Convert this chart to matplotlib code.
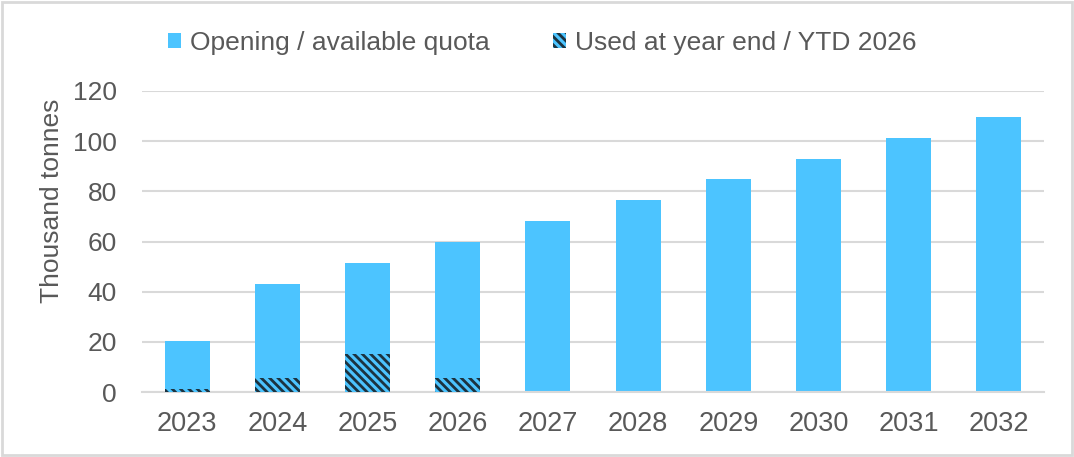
import numpy as np
import matplotlib
matplotlib.use("Agg")
import matplotlib.pyplot as plt
from matplotlib.patches import Rectangle

plt.rcParams['font.family'] = ['Liberation Sans', 'DejaVu Sans']
plt.rcParams['hatch.linewidth'] = 2.0
plt.rcParams['hatch.color'] = '#1c3340'

# datos
years = ['2023', '2024', '2025', '2026', '2027', '2028', '2029', '2030', '2031', '2032']
opening = [20.3, 43.0, 51.5, 60.0, 68.2, 76.5, 84.8, 93.0, 101.3, 109.8]
used = [1.3, 5.6, 15.0, 5.6, 0, 0, 0, 0, 0, 0]

col_blue = '#4CC4FF'
col_txt = '#595959'
col_grid = '#D9D9D9'

fig = plt.figure(figsize=(10.74, 4.57), dpi=100)
ax = fig.add_axes([142/1074, 1-392/457, (1044-142)/1074, (392-91)/457])

x = np.arange(len(years))
ax.bar(x, opening, width=0.5, color=col_blue, zorder=2, label='Opening / available quota')
ax.bar(x, used, width=0.5, color=col_blue, hatch='\\\\\\\\', edgecolor='#1c3340',
       linewidth=0, zorder=3, label='Used at year end / YTD 2026')

ax.set_xlim(-0.5, len(years)-0.5)
ax.set_ylim(0, 120)
ax.set_yticks(np.arange(0, 121, 20))
ax.set_xticks(x)
ax.set_xticklabels(years)
ax.yaxis.grid(True, color=col_grid, linewidth=1.5, zorder=0)
ax.set_axisbelow(True)
for s in ['top', 'right', 'left']:
    ax.spines[s].set_visible(False)
ax.spines['bottom'].set_color(col_grid)
ax.spines['bottom'].set_linewidth(1.5)
ax.tick_params(axis='both', length=0, colors=col_txt)
ax.tick_params(axis='x', pad=14, labelsize=19.5)
ax.tick_params(axis='y', pad=18, labelsize=19)
ax.set_ylabel('Thousand tonnes', fontsize=19, color=col_txt, va='center')
ax.yaxis.set_label_coords(-0.0998, 0.634)

leg = fig.legend(loc='center', bbox_to_anchor=(0.505, 1-43/457), ncol=2, frameon=False,
                 fontsize=19, handlelength=0.5, handleheight=0.5, handletextpad=0.34,
                 columnspacing=2.4)
for t in leg.get_texts():
    t.set_color(col_txt)

# borde del grafico
fig.patches.append(Rectangle((0.002, 0.004), 0.996, 0.992, transform=fig.transFigure,
                             fill=False, edgecolor=col_grid, linewidth=2))

plt.savefig("out.png", dpi=100)
